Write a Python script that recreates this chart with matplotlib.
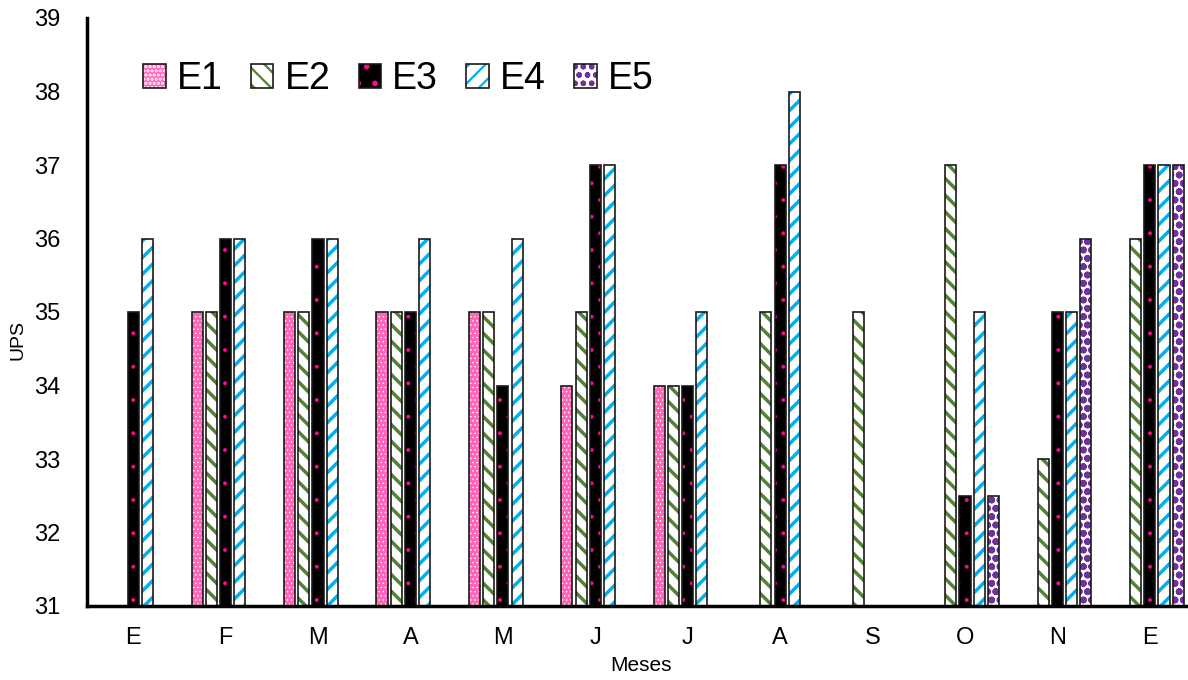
import numpy as np
import matplotlib
matplotlib.use("Agg")
import matplotlib.pyplot as plt

plt.rcParams['font.family'] = ['Liberation Sans', 'DejaVu Sans']

meses = ['E', 'F', 'M', 'A', 'M', 'J', 'J', 'A', 'S', 'O', 'N', 'E']
nan = np.nan
e1 = [nan, 35, 35, 35, 35, 34, 34, nan, nan, nan, nan, nan]
e2 = [nan, 35, 35, 35, 35, 35, 34, 35, 35, 37, 33, 36]
e3 = [35, 36, 36, 35, 34, 37, 34, 37, nan, 32.5, 35, 37]
e4 = [36, 36, 36, 36, 36, 37, 35, 38, nan, 35, 35, 37]
e5 = [nan, nan, nan, nan, nan, nan, nan, nan, nan, 32.5, 36, 37]

series = [
    ('E1', e1, '#ff66b8', 'white', '....', 0.5),
    ('E2', e2, 'white', '#548235', '\\\\', 2.5),
    ('E3', e3, 'black', '#ff0a8c', '.', 0.4),
    ('E4', e4, 'white', '#00b0f0', '//', 2.5),
    ('E5', e5, 'white', '#7030a0', 'oo', 2.5),
]

fig = plt.figure(figsize=(11.88, 6.8), dpi=100)
ax = fig.add_axes([87/1188, 74/680, 1109/1188, 588/680])

x = np.arange(len(meses))
step = 0.154
width = 0.12
handles = []
for k, (name, vals, face, hcol, hatch, hlw) in enumerate(series):
    pos = x + (k - 2) * step
    plt.rcParams['hatch.linewidth'] = hlw
    b1 = ax.bar(pos, vals, width, color=face, hatch=hatch, edgecolor=hcol, linewidth=0)
    b2 = ax.bar(pos, vals, width, fill=False, edgecolor='#1a1a1a', linewidth=1.2)
    handles.append((b1, b2))

ax.set_xlim(-0.5, len(meses) - 0.5)
ax.set_ylim(31, 39)
ax.set_yticks(range(31, 40))
ax.set_xticks(x)
ax.set_xticklabels(meses)
ax.tick_params(axis='both', length=0, labelsize=17)
ax.tick_params(axis='y', pad=19)
ax.tick_params(axis='x', pad=15)
for s in ['top', 'right']:
    ax.spines[s].set_visible(False)
for s in ['left', 'bottom']:
    ax.spines[s].set_linewidth(2.5)

ax.set_xlabel('Meses', fontsize=15, labelpad=5)
fig.text(18/1188, 1 - 340/680, 'UPS', rotation=90, fontsize=14, ha='center', va='center')

# legend swatches
plt.rcParams['hatch.linewidth'] = 1.6
ax.legend(handles, [s[0] for s in series], ncol=5, frameon=False, fontsize=27,
          loc='upper left', bbox_to_anchor=(143/1188, 1 - 61/680),
          bbox_transform=fig.transFigure, handlelength=0.6, handleheight=0.6,
          handletextpad=0.3, columnspacing=0.75, borderpad=0, borderaxespad=0)

fig.savefig('out.png', dpi=100)
